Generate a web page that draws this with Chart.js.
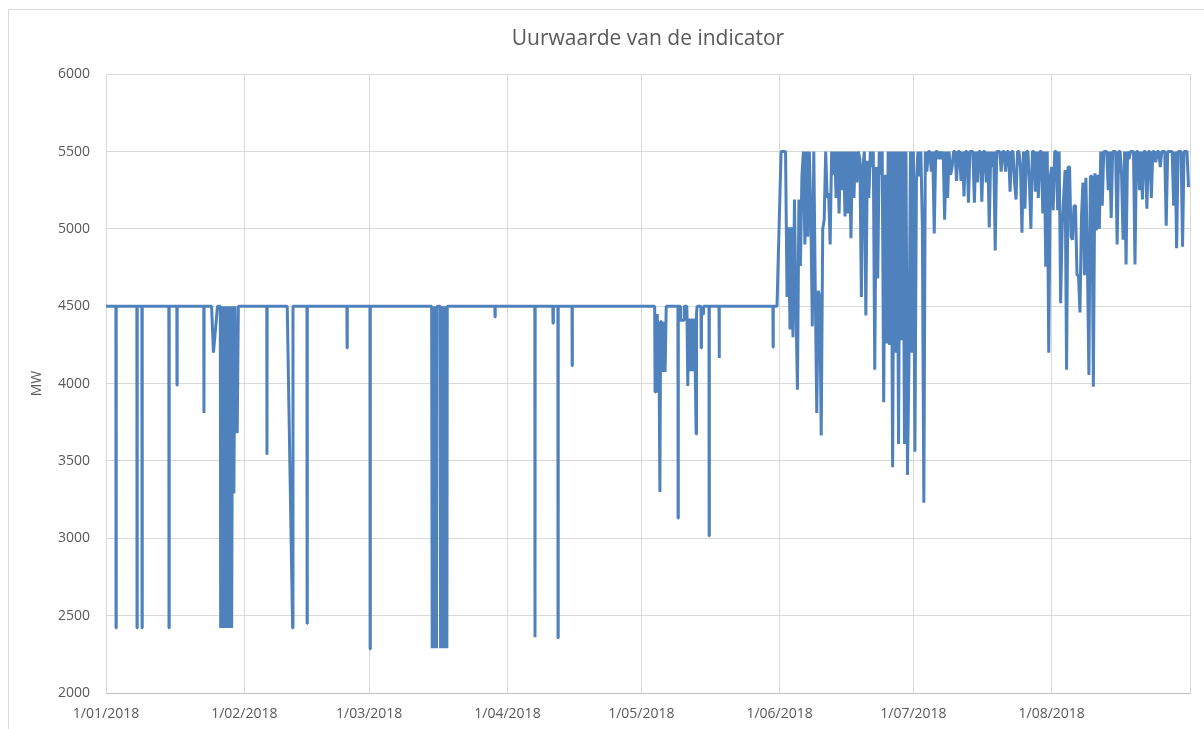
<!DOCTYPE html>
<html>
<head>
<meta charset="utf-8">
<script src="https://cdn.jsdelivr.net/npm/chart.js@4.4.0/dist/chart.umd.min.js"></script>
<style>
  html, body { margin: 0; padding: 0; background: #fff; }
  #wrap { position: relative; width: 1204px; height: 729px; overflow: hidden; }
  #kader { position: absolute; left: 8px; top: 9px; width: 1300px; height: 800px; border: 1px solid #d9d9d9; pointer-events: none; }
  canvas { position: absolute; left: 0; top: 0; }
</style>
</head>
<body>
<div id="wrap">
  <canvas id="uurChart" width="1204" height="729"></canvas>
  <div id="kader"></div>
</div>
<script>
// x-as: uren sinds 1/01/2018 00:00
const maandUren = [0, 744, 1416, 2160, 2880, 3624, 4344, 5088];
const maandLabels = ['1/01/2018', '1/02/2018', '1/03/2018', '1/04/2018', '1/05/2018', '1/06/2018', '1/07/2018', '1/08/2018'];
const eindUur = 5832; // 1/09/2018

// januari - mei: basis 4500 MW met dips
const uurVoorjaar = [
  0,
  53, 54, 55,
  166, 167, 168,
  193, 194, 195,
  338, 339, 340,
  381, 382, 383,
  526, 527, 528,
  568, 578, 600,
  615, 617, 622, 628, 634, 640, 646, 652, 658, 664, 670, 676, 682, 688, 694, 700, 706, 712,
  865, 866, 867,
  975, 1004, 1006,
  1081, 1082, 1083,
  1296, 1297, 1298,
  1420, 1421, 1422,
  1752, 1755, 1762, 1768, 1774, 1778, 1781, 1798, 1800, 1806, 1812, 1818, 1824, 1830, 1834, 1836,
  2092, 2093, 2094,
  2307, 2308, 2309,
  2404, 2405, 2407,
  2431, 2432, 2433,
  2507, 2508, 2509,
  2952, 2954, 2958, 2962, 2966, 2970, 2974, 2980, 2984, 2990, 2996, 3002, 3008, 3014,
  3077, 3078, 3079,
  3090, 3091, 3110, 3111,
  3125, 3126, 3130, 3134, 3140, 3146, 3150, 3156, 3160, 3166, 3175, 3177, 3180,
  3201, 3202, 3204, 3214, 3215,
  3244, 3245, 3246,
  3298, 3299, 3300,
  3588, 3589, 3590,
  3610
];
const mwVoorjaar = [
  4500,
  4500, 2420, 4500,
  4500, 2420, 4500,
  4500, 2420, 4500,
  4500, 2420, 4500,
  4500, 3990, 4500,
  4500, 3810, 4500,
  4500, 4200, 4500,
  4500, 2420, 4500, 2420, 4500, 2420, 4500, 2420, 4500, 2420, 4500, 2420, 4500, 3290, 4500, 3880, 3680, 4500,
  4500, 3540, 4500,
  4500, 2420, 4500,
  4500, 2450, 4500,
  4500, 4230, 4500,
  4500, 2285, 4500,
  4500, 2290, 4500, 2290, 4500, 2290, 4500, 4500, 2290, 4500, 2290, 4500, 2290, 4500, 2290, 4500,
  4500, 4430, 4500,
  4500, 2360, 4500,
  4500, 4390, 4500,
  4500, 2355, 4500,
  4500, 4115, 4500,
  4500, 3945, 4450, 3945, 4450, 3945, 4400, 3300, 4400, 4400, 4075, 4400, 4075, 4500,
  4500, 3130, 4500,
  4500, 4410, 4410, 4500,
  4500, 4420, 3985, 4420, 4080, 4420, 4080, 4420, 4080, 4420, 3675, 4450, 4500,
  4500, 4230, 4450, 4450, 4500,
  4500, 3015, 4500,
  4500, 4165, 4500,
  4500, 4235, 4500,
  4500
];

const uurZomer = [
  3632, 3640, 3648, 3656, 3664, 3672, 3680, 3688, 3696, 3704,
  3712, 3720, 3728, 3736, 3744, 3752, 3760, 3768, 3776, 3784,
  3792, 3800, 3808, 3816, 3824, 3832, 3840, 3848, 3856, 3864,
  3872, 3880, 3888, 3896, 3904, 3912, 3920, 3928, 3936, 3944,
  3952, 3960, 3968, 3976, 3984, 3992, 4000, 4008, 4016, 4024,
  4032, 4040, 4048, 4056, 4064, 4072, 4080, 4088, 4096, 4104,
  4112, 4120, 4128, 4136, 4144, 4152, 4160, 4168, 4176, 4184,
  4192, 4200, 4208, 4216, 4224, 4232, 4240, 4248, 4256, 4264,
  4272, 4280, 4288, 4296, 4304, 4312, 4320, 4328, 4336, 4344,
  4352, 4360, 4368, 4376, 4384, 4392, 4400, 4408, 4416, 4424,
  4432, 4440, 4448, 4456, 4464, 4472, 4480, 4488, 4496, 4504,
  4512, 4520, 4528, 4536, 4544, 4552, 4560, 4568, 4576, 4584,
  4592, 4600, 4608, 4616, 4624, 4632, 4640, 4648, 4656, 4664,
  4672, 4680, 4688, 4696, 4704, 4712, 4720, 4728, 4736, 4744,
  4752, 4760, 4768, 4776, 4784, 4792, 4800, 4808, 4816, 4824,
  4832, 4840, 4848, 4856, 4864, 4872, 4880, 4888, 4896, 4904,
  4912, 4920, 4928, 4936, 4944, 4952, 4960, 4968, 4976, 4984,
  4992, 5000, 5008, 5016, 5024, 5032, 5040, 5048, 5056, 5064,
  5072, 5080, 5088, 5096, 5104, 5112, 5120, 5128, 5136, 5144,
  5152, 5160, 5168, 5176, 5184, 5192, 5200, 5208, 5216, 5224,
  5232, 5240, 5248, 5256, 5264, 5272, 5280, 5288, 5296, 5304,
  5312, 5320, 5328, 5336, 5344, 5352, 5360, 5368, 5376, 5384,
  5392, 5400, 5408, 5416, 5424, 5432, 5440, 5448, 5456, 5464,
  5472, 5480, 5488, 5496, 5504, 5512, 5520, 5528, 5536, 5544,
  5552, 5560, 5568, 5576, 5584, 5592, 5600, 5608, 5616, 5624,
  5632, 5640, 5648, 5656, 5664, 5672, 5680, 5688, 5696, 5704,
  5712, 5720, 5728, 5736, 5744, 5752, 5760, 5768, 5776, 5784,
  5792, 5800, 5808, 5816, 5824
];
const mwZomer = [
  5500, 5500, 5500, 5500, 4560, 5010, 4350, 5010, 4300, 5190,
  4500, 3960, 5190, 4760, 5340, 5500, 4900, 5500, 4950, 5500,
  5100, 4370, 5500, 4600, 3810, 4600, 4560, 3665, 5000, 5060,
  5500, 5200, 5230, 4900, 5500, 5350, 5500, 5200, 5500, 5100,
  5500, 5250, 5500, 5080, 5500, 5100, 5500, 4940, 5500, 5200,
  5500, 5300, 5500, 5450, 4560, 5400, 5500, 4440, 5440, 5200,
  5500, 5400, 5500, 4090, 5400, 4680, 5500, 5350, 5500, 3880,
  5350, 4260, 5500, 4250, 5500, 3460, 5500, 4200, 5500, 3610,
  5500, 4280, 5500, 3610, 5500, 3410, 4150, 5500, 4200, 5500,
  3560, 5300, 5500, 5340, 5500, 5020, 3230, 5500, 5370, 5500,
  5500, 5370, 5500, 4970, 5500, 5500, 5450, 5500, 5450, 5500,
  5060, 5500, 5200, 5500, 5350, 5400, 5500, 5500, 5310, 5500,
  5500, 5310, 5500, 5210, 5500, 5500, 5170, 5500, 5500, 5500,
  5170, 5500, 5300, 5500, 5500, 5175, 5500, 5500, 5300, 5500,
  5010, 5500, 5400, 5500, 4860, 5500, 5500, 5500, 5370, 5500,
  5500, 5370, 5500, 5500, 5240, 5500, 5500, 5300, 5190, 5500,
  5500, 5400, 4975, 5500, 5130, 5500, 5500, 5300, 5000, 5500,
  5500, 5240, 5500, 5200, 5500, 5500, 5100, 5500, 4755, 5500,
  4200, 5340, 5400, 5120, 5500, 5500, 5120, 5500, 4520, 5000,
  5200, 5380, 4090, 5400, 5400, 4950, 4930, 5150, 5150, 4700,
  4700, 4460, 5070, 5300, 4700, 5330, 4800, 4055, 5340, 5340,
  3980, 5360, 4990, 5350, 5000, 5500, 5150, 5500, 5500, 5500,
  5250, 5500, 5070, 5500, 5500, 5500, 4900, 5500, 5500, 5340,
  4930, 5500, 4770, 5500, 5450, 5500, 5500, 5500, 4770, 5500,
  5500, 5250, 5500, 5190, 5500, 5500, 5130, 5500, 5500, 5200,
  5500, 5500, 5430, 5500, 5500, 5400, 5500, 5500, 5500, 5020,
  5500, 5500, 5500, 5500, 5150, 5500, 4875, 5500, 5500, 5500,
  4885, 5500, 5500, 5500, 5270
];

// punten opbouwen
const punten = [];
uurVoorjaar.forEach((u, i) => punten.push({ x: u, y: mwVoorjaar[i] }));
uurZomer.forEach((u, i) => punten.push({ x: u, y: mwZomer[i] }));

const tekstKleur = '#595959';
const lettertype = 'Open Sans';

const ctx = document.getElementById('uurChart').getContext('2d');
const uurChart = new Chart(ctx, {
  type: 'line',
  data: {
    datasets: [{
      label: 'MW',
      data: punten,
      borderColor: '#4f81bd',
      borderWidth: 3,
      borderJoinStyle: 'bevel',
      pointRadius: 0,
      tension: 0,
      fill: false
    }]
  },
  options: {
    responsive: false,
    animation: false,
    layout: { padding: { left: 0, right: 14, top: 0, bottom: 0 } },
    plugins: {
      legend: { display: false },
      tooltip: { enabled: false },
      title: {
        display: true,
        fullSize: false,
        text: 'Uurwaarde van de indicator',
        color: tekstKleur,
        font: { family: lettertype, size: 21, weight: 'normal' },
        padding: { top: 26, bottom: 23 }
      }
    },
    scales: {
      x: {
        type: 'linear',
        min: 0,
        max: eindUur,
        afterBuildTicks: (scale) => {
          scale.ticks = maandUren.concat([eindUur]).map(v => ({ value: v }));
        },
        afterFit: (scale) => { scale.height = 36; },
        ticks: {
          autoSkip: false,
          maxRotation: 0,
          padding: 13,
          color: tekstKleur,
          font: { family: lettertype, size: 14 },
          callback: (v) => {
            const i = maandUren.indexOf(v);
            return i >= 0 ? maandLabels[i] : '';
          }
        },
        grid: { color: '#d9d9d9', drawTicks: false },
        border: { color: '#bfbfbf', width: 1 }
      },
      y: {
        min: 2000,
        max: 6000,
        afterFit: (scale) => { scale.width = 106; },
        ticks: {
          stepSize: 500,
          padding: 16,
          color: tekstKleur,
          font: { family: lettertype, size: 14 },
          callback: (v) => String(v)
        },
        grid: { color: '#d9d9d9', drawTicks: false },
        border: { display: false },
        title: {
          display: true,
          text: 'MW',
          color: tekstKleur,
          font: { family: lettertype, size: 14 },
          padding: { top: 29, bottom: 0 }
        }
      }
    }
  }
});
</script>
</body>
</html>
